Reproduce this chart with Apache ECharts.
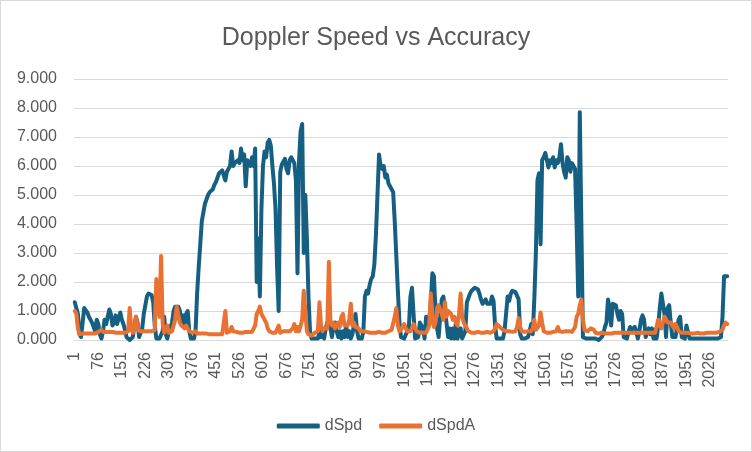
<!DOCTYPE html>
<html>
<head>
<meta charset="utf-8">
<script src="https://cdn.jsdelivr.net/npm/echarts@6/dist/echarts.min.js"></script>
<style>
html,body{margin:0;padding:0;background:#fff;}
#chart{width:752px;height:452px;box-sizing:border-box;border:1px solid #d9d9d9;}
</style>
</head>
<body>
<div id="chart"></div>
<script>
// Sample step: every 5th record of the original series (records 1, 6, 11, ... 2081)
const sampleStep = 5;
const sampleCount = 417;
const categories = [];
for (let i = 0; i < sampleCount; i++) categories.push(String(1 + i * sampleStep));

const dSpd = [
1.3,1.25,0.9,0.2,0.1,0.6,1.1,1.1,0.95,0.8,
0.75,0.6,0.65,0.3,0.7,0.55,0.2,0.05,0.3,0.7,
0.55,0.5,1.05,0.9,0.5,0.6,0.85,0.55,0.6,0.95,
0.7,0.55,0.35,0.1,0.05,0.0,0.05,0.1,0.5,0.8,
0.6,0.1,0.05,0.4,0.9,1.2,1.5,1.6,1.6,1.55,
1.3,0.5,0.05,0.1,0.05,0.1,0.3,0.8,0.2,0.05,
0.3,0.3,0.6,1.0,1.15,1.2,1.15,1.0,0.6,0.85,
0.5,0.9,1.0,0.3,0.05,0.0,0.05,0.3,1.6,2.5,
3.3,4.1,4.4,4.7,4.85,5.0,5.1,5.15,5.2,5.35,
5.45,5.6,5.75,5.8,5.85,5.85,5.5,5.8,5.9,6.0,
6.5,6.0,6.1,6.05,6.2,6.1,6.6,6.2,6.4,5.3,
6.2,6.1,6.0,6.3,6.0,6.6,2.0,3.5,1.5,4.5,
6.0,6.5,6.3,6.8,6.9,6.7,6.0,5.4,4.5,2.5,
1.0,5.8,6.05,6.1,6.25,5.9,5.75,6.2,6.3,6.3,
6.1,5.5,2.3,6.2,7.2,7.45,3.0,5.0,3.5,1.5,
0.3,0.05,0.05,0.05,0.1,0.05,0.3,0.1,0.2,0.05,
0.4,0.6,0.7,0.4,0.1,0.5,0.6,0.3,0.1,0.3,
0.05,0.3,0.1,0.5,0.1,0.3,0.05,0.2,0.5,0.9,
0.3,0.05,0.1,0.05,0.3,1.5,1.7,1.6,1.9,2.1,
2.2,2.6,3.6,5.0,6.4,6.0,5.9,6.0,5.6,5.7,
5.4,5.3,5.2,5.1,4.1,2.9,1.7,0.6,0.1,0.05,
0.05,0.05,0.3,0.4,1.5,1.8,0.9,0.05,0.05,0.1,
0.6,0.6,0.4,0.05,0.8,0.4,0.7,1.3,2.3,2.2,
1.0,0.4,0.1,0.8,1.4,1.5,1.1,0.6,0.1,0.4,
0.05,0.4,0.05,0.6,0.05,0.1,0.4,0.05,0.1,0.3,
1.3,1.45,1.6,1.7,1.75,1.8,1.8,1.75,1.6,1.4,
1.25,1.3,1.4,1.25,1.2,1.25,1.5,1.35,0.5,0.05,
0.05,0.05,0.05,0.05,0.3,0.9,1.5,1.35,1.6,1.7,
1.7,1.65,1.7,1.4,0.2,0.05,0.05,0.05,0.05,0.1,
0.3,0.55,0.2,1.4,3.0,5.5,5.75,3.3,6.2,6.3,
6.45,6.2,5.95,6.2,6.1,6.3,5.95,6.2,6.1,6.3,
6.75,6.1,5.8,5.6,6.3,6.2,5.8,6.1,6.1,5.9,
3.9,1.5,7.85,4.0,0.1,0.05,0.05,0.0,0.05,0.0,
0.05,0.0,0.05,0.05,0.0,0.05,0.1,0.2,0.45,0.6,
1.4,1.1,0.5,1.25,1.25,1.2,0.9,0.7,1.0,0.9,
0.1,0.05,0.05,0.05,0.45,0.35,0.3,0.45,0.3,0.05,
0.3,0.7,0.85,0.7,0.1,0.05,0.4,0.2,0.4,0.05,
0.05,0.05,0.5,1.1,1.6,1.65,0.9,0.1,1.1,1.2,
0.6,0.1,0.05,0.1,0.05,0.7,0.8,0.1,0.05,0.05,
0.5,0.5,0.05,0.0,0.05,0.02,0.05,0.0,0.05,0.02,
0.05,0.0,0.05,0.02,0.05,0.0,0.05,0.02,0.05,0.0,
0.05,0.05,0.1,0.8,2.2,2.25,2.2
];

const dSpdA = [
1.0,0.9,0.4,0.2,0.2,0.22,0.2,0.22,0.2,0.22,
0.2,0.22,0.25,0.22,0.25,0.28,0.25,0.35,0.28,0.25,
0.28,0.25,0.28,0.25,0.28,0.3,0.25,0.28,0.25,0.28,
0.25,0.28,0.25,0.28,0.3,1.1,0.4,0.25,0.4,0.8,
0.5,0.3,0.28,0.3,0.28,0.3,0.28,0.3,0.32,0.3,
0.3,0.35,2.1,2.15,0.8,2.9,0.6,0.25,0.3,0.5,
0.25,0.3,0.3,0.35,0.7,1.15,1.1,0.6,0.5,0.45,
0.4,0.5,0.4,0.3,0.3,0.25,0.25,0.3,0.22,0.22,
0.22,0.2,0.22,0.2,0.22,0.2,0.2,0.22,0.2,0.22,
0.2,0.22,0.2,0.22,0.2,0.22,1.0,0.25,0.3,0.3,
0.45,0.3,0.25,0.28,0.25,0.25,0.28,0.25,0.25,0.28,
0.25,0.28,0.25,0.28,0.3,0.5,0.9,1.0,1.15,0.9,
0.8,0.8,0.6,0.4,0.3,0.25,0.25,0.28,0.25,0.3,
0.5,0.25,0.3,0.3,0.35,0.3,0.35,0.3,0.35,0.4,
0.55,0.3,0.45,0.3,0.35,0.7,1.7,1.0,0.3,0.2,
0.2,0.15,0.2,0.25,0.3,0.3,1.3,0.5,0.3,0.4,
0.35,0.4,2.7,0.6,0.5,0.6,0.4,0.5,0.6,0.45,
0.8,0.9,0.5,0.45,0.5,0.7,1.25,0.5,0.6,0.45,
0.5,0.4,0.3,0.3,0.3,0.25,0.28,0.25,0.25,0.28,
0.25,0.28,0.25,0.25,0.28,0.25,0.25,0.28,0.25,0.25,
0.3,0.3,0.35,0.4,0.8,1.1,0.5,0.3,0.35,0.45,
0.55,0.4,0.3,0.3,0.3,0.35,0.55,0.4,0.3,0.25,
0.25,0.28,0.25,0.28,0.25,0.3,0.5,1.6,0.7,0.45,
0.6,1.1,1.2,1.25,0.9,0.7,1.3,0.8,1.0,1.05,
0.9,0.7,0.8,0.6,0.5,0.9,1.6,0.8,0.6,0.5,
0.4,0.3,0.25,0.25,0.28,0.25,0.25,0.28,0.25,0.25,
0.28,0.25,0.25,0.28,0.25,0.25,0.28,0.3,0.4,0.55,
0.5,0.45,0.45,0.35,0.3,0.3,0.28,0.3,0.3,0.28,
0.3,0.3,0.45,0.75,0.45,0.3,0.3,0.28,0.3,0.3,
0.28,0.3,0.4,0.7,0.35,0.3,0.5,0.95,0.6,0.3,
0.25,0.25,0.28,0.25,0.25,0.28,0.3,0.3,0.45,0.3,
0.3,0.28,0.3,0.3,0.28,0.3,0.3,0.28,0.3,0.45,
0.8,0.9,1.2,1.4,0.7,0.35,0.3,0.3,0.3,0.4,
0.45,0.35,0.25,0.25,0.22,0.22,0.25,0.22,0.22,0.25,
0.22,0.25,0.22,0.22,0.25,0.22,0.25,0.22,0.25,0.22,
0.25,0.22,0.25,0.3,0.25,0.22,0.25,0.28,0.25,0.22,
0.25,0.3,0.25,0.22,0.25,0.28,0.25,0.22,0.25,0.28,
0.25,0.3,0.7,0.5,0.4,0.6,0.8,0.7,0.6,0.65,
0.6,0.5,0.4,0.55,0.45,0.3,0.25,0.25,0.22,0.25,
0.22,0.25,0.22,0.22,0.25,0.22,0.22,0.25,0.22,0.22,
0.25,0.22,0.22,0.25,0.22,0.25,0.22,0.25,0.22,0.25,
0.25,0.28,0.3,0.35,0.5,0.6,0.55
];

const yMin = 0, yMax = 9, yStep = 1;
const textColor = '#595959';
const fontFam = 'Liberation Sans, Arial, sans-serif';

const chart = echarts.init(document.getElementById('chart'), null, {renderer: 'canvas'});
chart.setOption({
  animation: false,
  backgroundColor: '#ffffff',
  title: {
    text: 'Doppler Speed vs Accuracy',
    left: 'center',
    top: 20,
    textStyle: {color: textColor, fontSize: 25, fontWeight: 'normal', fontFamily: fontFam}
  },
  legend: {
    data: ['dSpd', 'dSpdA'],
    left: 'center',
    top: 412,
    icon: 'roundRect',
    itemWidth: 43,
    itemHeight: 5,
    itemGap: 17,
    textStyle: {color: textColor, fontSize: 16, fontFamily: fontFam}
  },
  grid: {left: 73, right: 23, top: 78, bottom: 111, containLabel: false},
  xAxis: {
    type: 'category',
    data: categories,
    boundaryGap: true,
    axisLine: {show: true, lineStyle: {color: '#d9d9d9', width: 1}},
    axisTick: {show: false},
    axisLabel: {
      interval: 14,
      rotate: 90,
      margin: 12,
      color: textColor,
      fontSize: 16,
      fontFamily: fontFam
    },
    splitLine: {show: false}
  },
  yAxis: {
    type: 'value',
    min: yMin,
    max: yMax,
    interval: yStep,
    axisLine: {show: false},
    axisTick: {show: false},
    axisLabel: {
      margin: 17,
      color: textColor,
      fontSize: 16,
      fontFamily: fontFam,
      formatter: v => v.toFixed(3)
    },
    splitLine: {lineStyle: {color: '#d9d9d9', width: 1}}
  },
  series: [
    {
      name: 'dSpd',
      type: 'line',
      data: dSpd,
      showSymbol: false,
      symbol: 'none',
      color: '#156082',
      lineStyle: {width: 4, color: '#156082', join: 'round', cap: 'round'}
    },
    {
      name: 'dSpdA',
      type: 'line',
      data: dSpdA,
      showSymbol: false,
      symbol: 'none',
      color: '#E97132',
      lineStyle: {width: 4, color: '#E97132', join: 'round', cap: 'round'}
    }
  ]
});
</script>
</body>
</html>
